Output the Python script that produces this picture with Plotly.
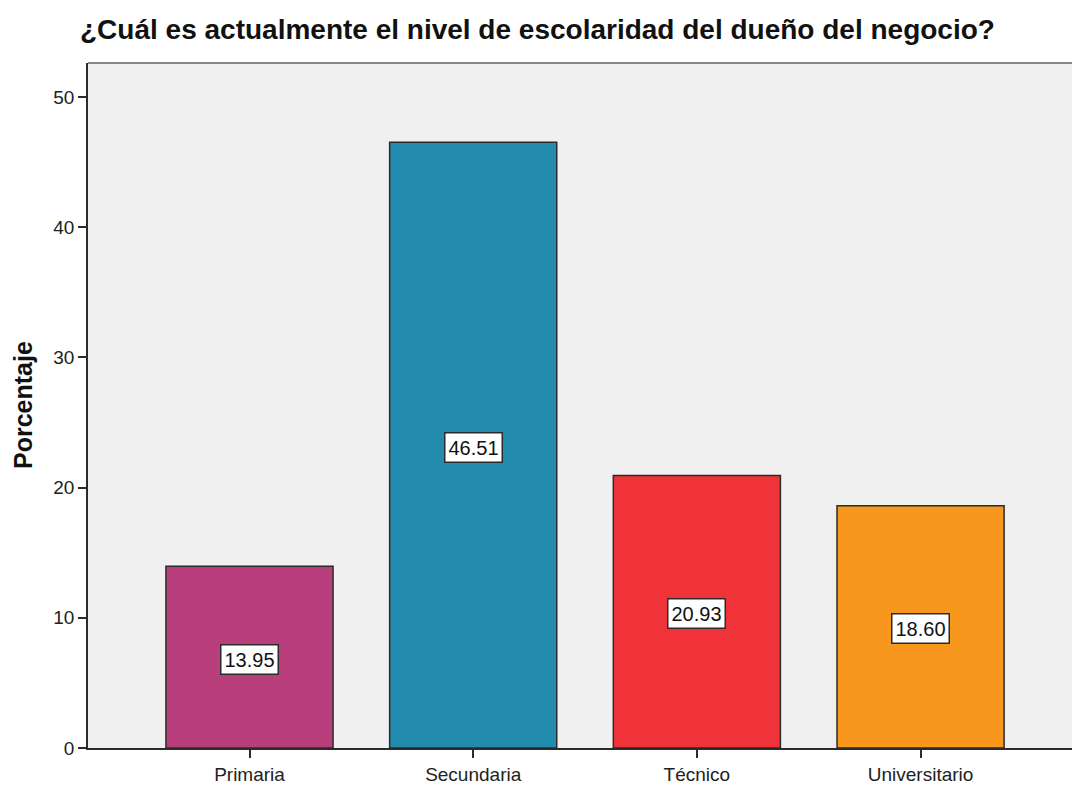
import plotly.graph_objects as go

categories = ["Primaria", "Secundaria", "Técnico", "Universitario"]
percentages = [13.95, 46.51, 20.93, 18.60]
bar_colors = ["#B93E7C", "#238BAD", "#EF3338", "#F7971E"]
y_ticks = [0, 10, 20, 30, 40, 50]

W, H = 1072, 785
FONT = "Liberation Sans, Arial, sans-serif"
PLOT_L, PLOT_T, PLOT_B = 88, 63, 748

fig = go.Figure()
fig.add_trace(go.Bar(
    x=categories,
    y=percentages,
    marker=dict(color=bar_colors, line=dict(color="#2b2b2b", width=1.5)),
    width=0.747,
    hoverinfo="x+y",
))

# value labels boxed in the middle of each bar
for cat, val in zip(categories, percentages):
    fig.add_annotation(
        x=cat, y=val / 2, xref="x", yref="y",
        text=f"{val:.2f}", showarrow=False,
        font=dict(family=FONT, size=20, color="#111111"),
        bgcolor="white", bordercolor="#2b2b2b", borderwidth=1.5, borderpad=3,
        yshift=-2,
    )

# y-axis title
fig.add_annotation(
    x=(23 - PLOT_L) / (W - PLOT_L), y=(PLOT_B - 405) / (PLOT_B - PLOT_T),
    xref="paper", yref="paper", xanchor="center", yanchor="middle",
    text="<b>Porcentaje</b>", showarrow=False, textangle=-90,
    font=dict(family=FONT, size=25, color="#111111"),
)

# grey frame line along the top of the plot area
fig.add_shape(type="line", xref="paper", yref="paper",
              x0=0, x1=1, y0=1, y1=1,
              line=dict(color="#888888", width=2))

fig.update_layout(
    width=W, height=H,
    margin=dict(l=PLOT_L, r=0, t=PLOT_T, b=H - PLOT_B),
    paper_bgcolor="white",
    plot_bgcolor="#F0F0F0",
    showlegend=False,
    title=dict(
        text="<b>¿Cuál es actualmente el nivel de escolaridad del dueño del negocio?</b>",
        x=80 / W, xref="container", xanchor="left",
        y=1 - 29 / H, yref="container", yanchor="middle",
        font=dict(family=FONT, size=28, color="#111111"),
    ),
    font=dict(family=FONT),
)

fig.update_xaxes(
    range=[-0.722, 3.677],
    showline=True, linecolor="#2b2b2b", linewidth=1.5,
    ticks="outside", ticklen=8, tickcolor="#2b2b2b", tickwidth=1.5,
    tickfont=dict(family=FONT, size=19, color="#222222"),
    showgrid=False, zeroline=False, fixedrange=True,
)
fig.update_yaxes(
    range=[0, 52.6],
    tickvals=y_ticks,
    showline=True, linecolor="#2b2b2b", linewidth=1.5,
    ticks="outside", ticklen=8, tickcolor="#2b2b2b", tickwidth=1.5,
    tickfont=dict(family=FONT, size=19, color="#222222"),
    showgrid=False, zeroline=False, fixedrange=True,
)

fig.write_html("out.html", config={"displayModeBar": False})
